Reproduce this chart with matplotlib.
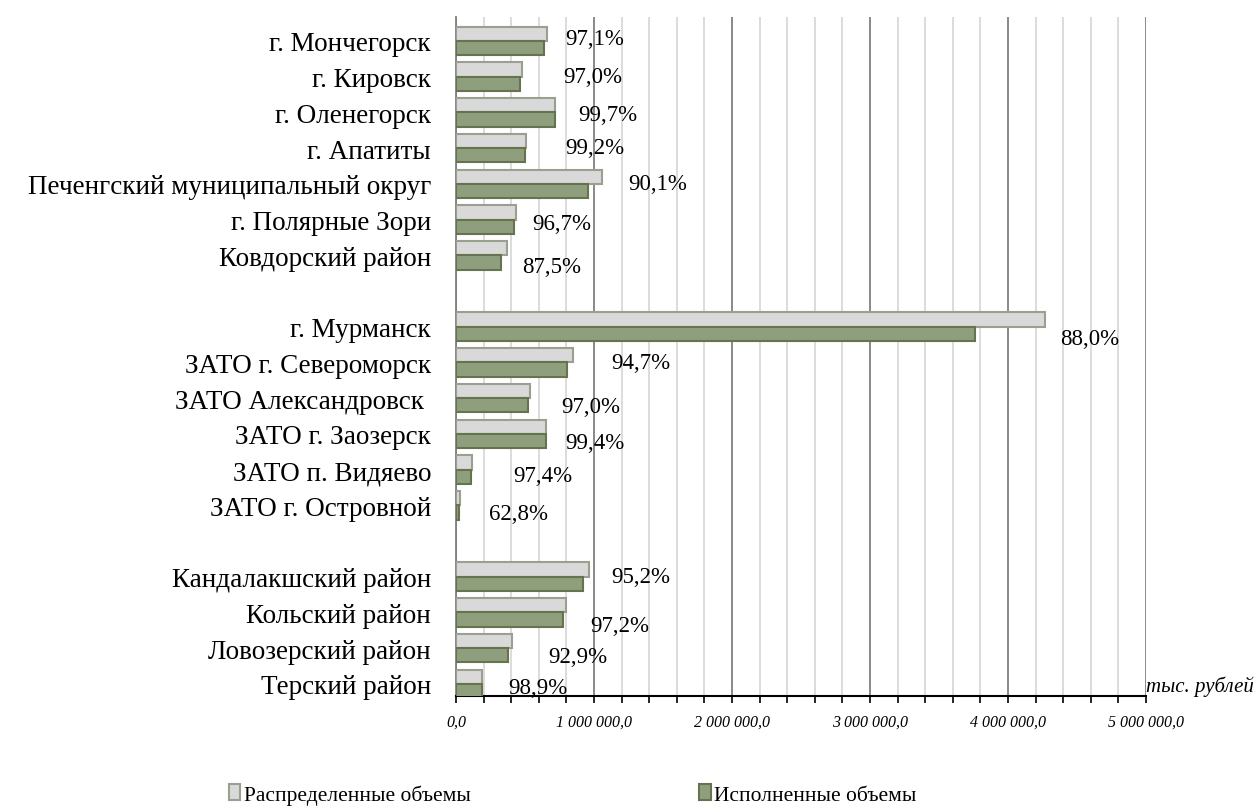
import numpy as np
import matplotlib.pyplot as plt
from matplotlib.ticker import MultipleLocator, FuncFormatter

plt.rcParams['font.family'] = ['Liberation Serif', 'DejaVu Serif']

# regions ("" = gap between groups)
regions = ["г. Мончегорск", "г. Кировск", "г. Оленегорск", "г. Апатиты",
           "Печенгский муниципальный округ", "г. Полярные Зори", "Ковдорский район",
           "",
           "г. Мурманск", "ЗАТО г. Североморск", "ЗАТО Александровск ", "ЗАТО г. Заозерск",
           "ЗАТО п. Видяево", "ЗАТО г. Островной",
           "",
           "Кандалакшский район", "Кольский район", "Ловозерский район", "Терский район"]

# тыс. рублей
distributed = [660000, 478000, 717000, 507000, 1058000, 435000, 370000, np.nan,
               4270000, 851000, 534000, 654000, 113000, 32000, np.nan,
               966000, 795000, 405000, 189000]
executed = [641000, 464000, 715000, 503000, 953000, 421000, 324000, np.nan,
            3758000, 806000, 518000, 650000, 110000, 20000, np.nan,
            920000, 773000, 376000, 187000]
percent = ["97,1%", "97,0%", "99,7%", "99,2%", "90,1%", "96,7%", "87,5%", "",
           "88,0%", "94,7%", "97,0%", "99,4%", "97,4%", "62,8%", "",
           "95,2%", "97,2%", "92,9%", "98,9%"]

# label offsets in pixels (right, down)
lbl_dx = [18, 41, 23, 39, 26, 16, 15, 0, 15, 38, 32, 19, 42, 29, 0, 22, 25, 36, 26]
lbl_dy = [-2, 0, 2, -1, 0, 4, 11, 0, 12, 0, 8, 9, 6, 8, 0, 0, 13, 8, 4]

fig = plt.figure(figsize=(12.58, 8.12), dpi=100)
ax = fig.add_axes([0.3625, 0.1416, 0.5485, 0.8362])

y = np.arange(len(regions))
h = 0.40
ax.barh(y - h / 2, distributed, height=h, color='#d9d9d9', edgecolor='#9aa08f',
        linewidth=1.5, label='Распределенные объемы', zorder=3)
ax.barh(y + h / 2, executed, height=h, color='#8f9f7d', edgecolor='#66734f',
        linewidth=1.5, label='Исполненные объемы', zorder=3)

for i in range(len(regions)):
    if percent[i] == "":
        continue
    ax.annotate(percent[i], (distributed[i], y[i]), xytext=(lbl_dx[i], -lbl_dy[i]),
                textcoords='offset pixels', ha='left', va='center', fontsize=16.5)

ax.set_xlim(0, 5000000)
ax.set_ylim(len(regions) - 1 + 0.34, -0.67)
ax.set_yticks(y)
ax.set_yticklabels(regions, fontsize=19.5)
ax.tick_params(axis='y', length=0, pad=18)

ax.xaxis.set_major_locator(MultipleLocator(1000000))
ax.xaxis.set_minor_locator(MultipleLocator(200000))
ax.xaxis.set_major_formatter(FuncFormatter(lambda v, p: f"{v:,.1f}".replace(",", " ").replace(".", ",")))
ax.tick_params(axis='x', which='major', labelsize=11.5, length=5, width=1.2, pad=8)
ax.tick_params(axis='x', which='minor', length=5, width=1.2)
plt.setp(ax.get_xticklabels(), fontstyle='italic')

ax.grid(axis='x', which='major', color='#808080', linewidth=1.3, zorder=0)
ax.grid(axis='x', which='minor', color='#d9d9d9', linewidth=1.3, zorder=0)
ax.grid(axis='y', visible=False)

ax.spines['top'].set_visible(False)
ax.spines['right'].set_visible(False)
ax.spines['left'].set_color('#808080')
ax.spines['left'].set_linewidth(1.3)
ax.spines['bottom'].set_color('black')
ax.spines['bottom'].set_linewidth(1.5)

ax.text(1.0, 0.0, "тыс. рублей", transform=ax.transAxes, ha='left', va='bottom',
        fontsize=15, fontstyle='italic')

fig.legend(loc='lower center', bbox_to_anchor=(0.455, -0.016), ncol=2, frameon=False,
           fontsize=15.5, handlelength=0.55, handleheight=0.75, handletextpad=0.15,
           columnspacing=10.6)

plt.savefig('out.png', dpi=100)
